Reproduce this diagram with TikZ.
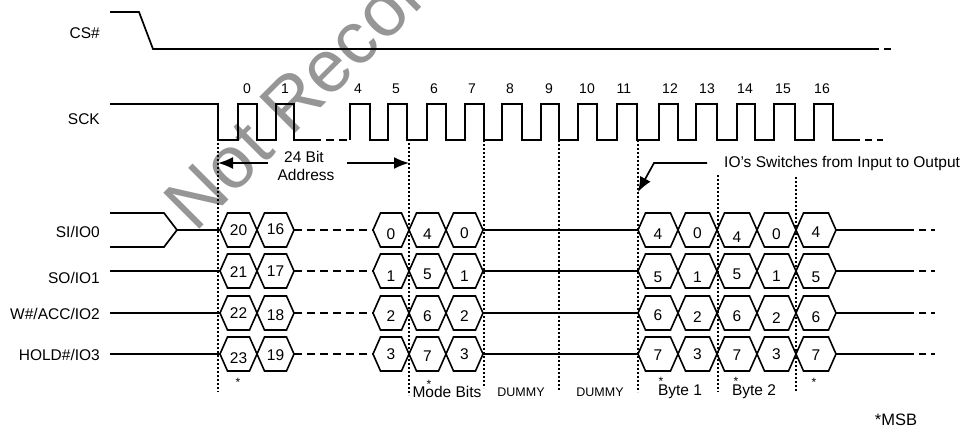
\documentclass[tikz,border=0pt]{standalone}
\usepackage{fontspec}
\setmainfont{Liberation Sans}
\usetikzlibrary{arrows.meta}
\definecolor{wm}{RGB}{150,150,150}
\newcommand\hexrow[2]{%
  \foreach \a/\b/\t/\d in {#2}{%
    \draw[hexline] (\a,#1) -- (\a+7.5,#1-17) -- (\b-7.5,#1-17) -- (\b,#1) -- (\b-7.5,#1+17) -- (\a+7.5,#1+17) -- cycle;
    \node[lbl] (hx-#1-\a) at ({(\a+\b)/2},#1+\d) {\t};
  }}
\begin{document}
\begin{tikzpicture}[x=1pt,y=-1pt,
  sig/.style={line width=1.7pt, line join=miter},
  hexline/.style={line width=1.6pt, line join=miter},
  dotline/.style={line width=1.5pt, dash pattern=on 1.8pt off 2.2pt},
  gapline/.style={line width=1.7pt, dash pattern=on 8pt off 5pt},
  endline/.style={line width=1.7pt, dash pattern=on 7pt off 5pt},
  lbl/.style={inner sep=0pt, font=\fontsize{15.5}{18}\selectfont},
  num/.style={inner sep=0pt, font=\fontsize{14}{16}\selectfont},
  smalltxt/.style={inner sep=0pt, font=\fontsize{12.5}{14}\selectfont},
  star/.style={inner sep=0pt, anchor=base, font=\fontsize{12}{14}\selectfont},
  arr/.style={line width=1.7pt, -{Latex[length=15pt,width=12pt]}}
]
\useasboundingbox (0,0) rectangle (969,432);
\fill[white] (0,0) rectangle (969,432);
% watermark
\begin{scope}
  \clip (0,0) rectangle (969,432);
  \node[rotate=45, anchor=base west, inner sep=0pt, text=wm,
        font=\fontsize{74}{82}\selectfont] (wmark) at (195,234) {Not Recommended};
\end{scope}

% signal labels
\node[lbl, anchor=east] (lcs) at (100,33) {CS\#};
\node[lbl, anchor=east] (lsck) at (100,119) {SCK};
\node[lbl, anchor=east] (lio0) at (100,232) {SI/IO0};
\node[lbl, anchor=east] (lio1) at (100,278) {SO/IO1};
\node[lbl, anchor=east] (lio2) at (100,314) {W\#/ACC/IO2};
\node[lbl, anchor=east] (lio3) at (100,355) {HOLD\#/IO3};

% CS#
\draw[sig] (110,12) -- (139,12) -- (153,49) -- (872,49);
\draw[endline] (872,49) -- (895,49);

% SCK
\draw[sig] (110,104) -- (218,104) -- (218,140) -- (238,140) -- (238,104) -- (257,104)
  -- (257,140) -- (276,140) -- (276,104) -- (294,104) -- (294,140) -- (313,140);
\draw[gapline] (313,140) -- (350,140);
\draw[sig] (350,140)
  \foreach \r/\f in {350/370,388/407,427/446,465/484,502/522,541/559,578/597,617/637,659/678,696/717,737/755,774/795,814/833}{
    -- (\r,140) -- (\r,104) -- (\f,104) -- (\f,140)} -- (853,140);
\draw[endline] (853,140) -- (883,140);

% clock numbers
\foreach \x/\n in {247/0,285/1,358/4,396/5,434/6,472/7,510/8,549/9,587/10,624/11,670/12,707/13,745/14,783/15,822/16}{
  \node[num] (ck\n) at (\x,89) {\n};
}

% dotted guide lines
\draw[dotline] (218,143) -- (218,392);
\draw[dotline] (409,143) -- (409,395);
\draw[dotline] (484,140) -- (484,388);
\draw[dotline] (559,140) -- (559,390);
\draw[dotline] (638,140) -- (638,392);
\draw[dotline] (718,175) -- (718,392);
\draw[dotline] (796,177) -- (796,392);

% 24 bit address
\node[lbl] (bit) at (304,157) {24 Bit};
\node[lbl] (addr) at (306,175) {Address};
\coordinate (a1s) at (268,163); \coordinate (a1e) at (218,163);
\coordinate (a2s) at (347,163); \coordinate (a2e) at (409,163);
\draw[arr] (a1s) -- (a1e);
\draw[arr] (a2s) -- (a2e);

% IO switch
\node[lbl, anchor=west] (sw) at (724,163) {IO’s Switches from Input to Output};
\coordinate (s1) at (707,163); \coordinate (s2) at (654,163); \coordinate (s3) at (638,192);
\draw[arr] (s1) -- (s2) -- (s3);

% IO lines
\draw[sig] (110,213) -- (164,213) -- (177,230) -- (220,230);
\draw[sig] (110,247) -- (164,247) -- (177,230);
\foreach \y in {271,313,354}{ \draw[sig] (110,\y) -- (220,\y); }
\foreach \y in {230,271,313,354}{
  \draw[gapline] (294,\y) -- (373,\y);
  \draw[sig] (483,\y) -- (638,\y);
  \draw[sig] (836,\y) -- (907,\y);
  \draw[endline] (907,\y) -- (935,\y);
}

% hexagons
\hexrow{230}{220/257/20/0,257/294/16/-1,373/409/0/4,409/446/4/4,446/483/0/3,638/678/4/4,678/717/0/3,717/757/4/7,757/796/0/4,796/836/4/2}
\hexrow{271}{220/257/21/1,257/294/17/0,373/409/1/5,409/446/5/3,446/483/1/5,638/678/5/6,678/717/1/6,717/757/5/3,757/796/1/5,796/836/5/6}
\hexrow{313}{220/257/22/0,257/294/18/2,373/409/2/3,409/446/6/3,446/483/2/3,638/678/6/2,678/717/2/4,717/757/6/3,757/796/2/5,796/836/6/4}
\hexrow{354}{220/257/23/4,257/294/19/1,373/409/3/0,409/446/7/2,446/483/3/0,638/678/7/1,678/717/3/0,717/757/7/1,757/796/3/0,796/836/7/1}

% asterisks
\node[star] (st1) at (238,386) {*};
\node[star] (st2) at (429,388) {*};
\node[star] (st3) at (661,385) {*};
\node[star] (st4) at (736,385) {*};
\node[star] (st5) at (814,386) {*};

% bottom labels
\node[lbl] (mode) at (447,392) {Mode Bits};
\node[smalltxt] (dm1) at (521,392) {DUMMY};
\node[smalltxt] (dm2) at (600,392) {DUMMY};
\node[lbl] (b1) at (680,392) {Byte 1};
\node[lbl] (b2) at (754,392) {Byte 2};
\node[inner sep=0pt, font=\fontsize{16.5}{19}\selectfont] (msb) at (896,420) {*MSB};
\end{tikzpicture}
\end{document}
